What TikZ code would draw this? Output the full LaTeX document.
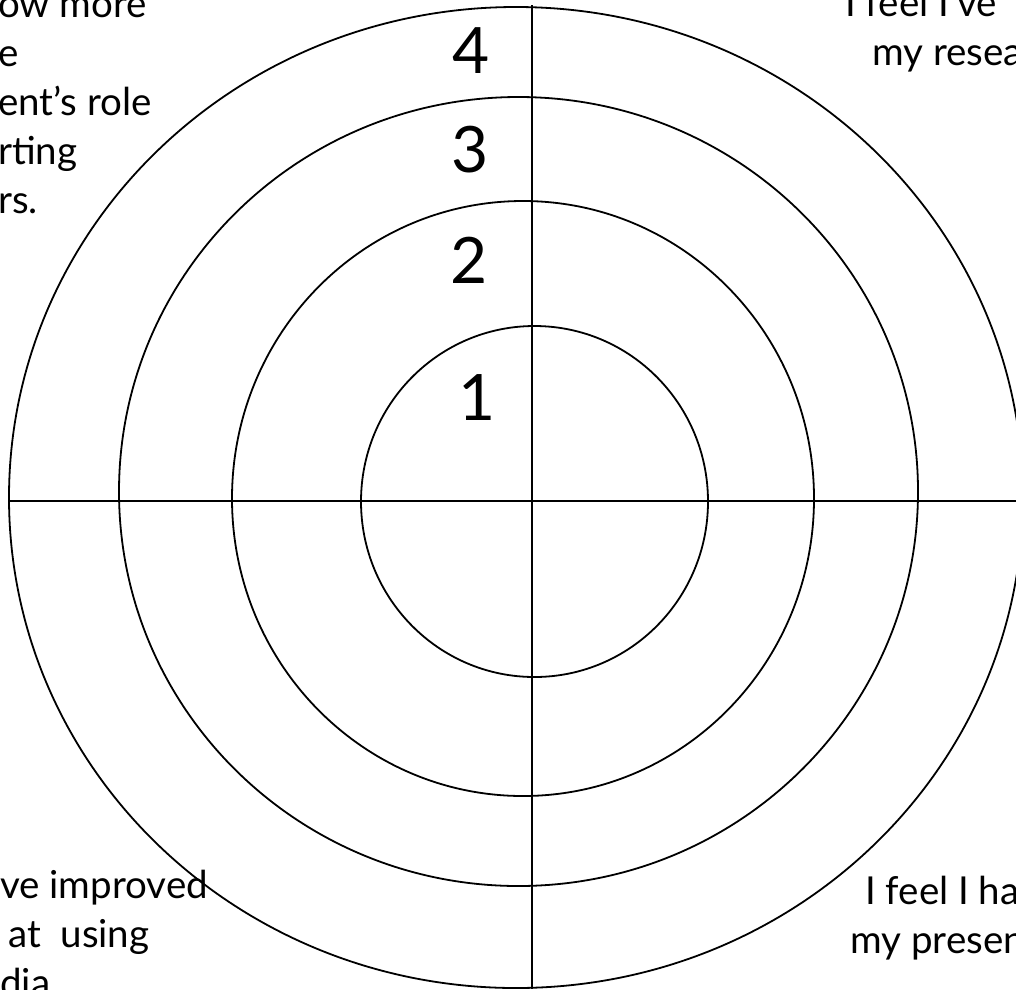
\documentclass[tikz,border=0pt]{standalone}
\usepackage{fontspec}
\setmainfont{Lato}
\usepackage{tikz}

\begin{document}
\begin{tikzpicture}[
    x=1pt, y=-1pt,
    ring/.style={draw, line width=1.8pt},
    axis/.style={draw, line width=2.9pt},
    statement/.style={inner sep=0pt, align=left, font=\fontsize{38.5}{49}\selectfont},
    score/.style={inner sep=0pt, anchor=base, font=\fontsize{64}{64}\selectfont},
]
\useasboundingbox (0,0) rectangle (1016,989);
\clip (0,0) rectangle (1016,989);

% Target rings, inner to outer
\draw[ring] (534.5,501.5) ellipse [x radius=173.5, y radius=175.5];
\draw[ring] (523,498.5) ellipse [x radius=291, y radius=297.5];
\draw[ring] (518.5,491.5) ellipse [x radius=399.5, y radius=394.5];
\draw[ring] (516,497.5) ellipse [x radius=507, y radius=490.5];

% Axes
\coordinate (west) at (9,501);
\coordinate (east) at (1016,501);
\coordinate (north) at (532,5);
\coordinate (south) at (532,989);
\draw[axis] (west) -- (east);
\draw[axis] (north) -- (south);

% Scores
\node[score] (s4) at (471,73) {4};
\node[score] (s3) at (470,172) {3};
\node[score] (s2) at (469,283) {2};
\node[score] (s1) at (477,420) {1};

% Statements in the corners (base = last line)
\node[statement, anchor=base west] (parents) at (-2,213)
    {\llap{I now kn}ow more\\\llap{about th}e\\\llap{par}ent's role\\\llap{in suppo}rting\\\llap{reade}rs.};
\node[statement, anchor=base west] (research) at (845,65)
    {I feel I've\\\hspace*{27pt}my research};
\node[statement, anchor=base west] (media) at (0,996)
    {\llap{I feel I'}ve improved\\\hspace*{8pt}at\ \ using\\\llap{me}dia};
\node[statement, anchor=base west] (presentation) at (850,953)
    {\hspace*{15pt}I feel I have improved\\my presentation skills};

\end{tikzpicture}
\end{document}
